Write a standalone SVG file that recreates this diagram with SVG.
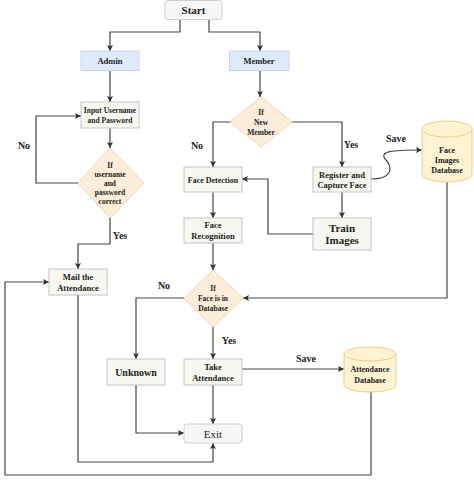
<svg xmlns="http://www.w3.org/2000/svg" width="474" height="481" viewBox="0 0 474 481">
<defs>
<marker id="ah" viewBox="0 0 10 10" refX="10" refY="5" markerWidth="6" markerHeight="6" orient="auto" markerUnits="userSpaceOnUse">
<path d="M0,0 L10,5 L0,10 L2,5 z" fill="#333"/>
</marker>
<style>
.t{font-family:"Liberation Serif","DejaVu Serif",serif;font-weight:bold;fill:#222;text-anchor:middle}
.s9{font-size:8.5px}
.s10{font-size:10px}
.s11{font-size:11px}
.lbl{font-family:"Liberation Serif","DejaVu Serif",serif;font-weight:bold;fill:#222;font-size:10px;text-anchor:middle}
.proc{fill:#f8f8f3;stroke:#c4c4c4;stroke-width:1}
.blue{fill:#dfeafb;stroke:#c6d7ee;stroke-width:1}
.term{fill:#f6f6f6;stroke:#cfcfcf;stroke-width:1}
.dec{fill:#fdeddb;stroke:#f2d3ae;stroke-width:1}
.db{fill:#fff3d2;stroke:#e6cf8a;stroke-width:1}
.c{fill:none;stroke:#444;stroke-width:1.2;marker-end:url(#ah)}
</style>
</defs>
<rect width="474" height="481" fill="#ffffff"/>

<g id="connectors">
<path class="c" d="M180,19 V32 H110 V51"/>
<path class="c" d="M209,19 V32 H260 V51"/>
<path class="c" d="M110,70 V102"/>
<path class="c" d="M110,128 V148"/>
<path class="c" d="M78,183 H36 V116 H81"/>
<path class="c" d="M110,218 V244 H78 V269"/>
<path class="c" d="M260,70 V97"/>
<path class="c" d="M230,122 H213 V167"/>
<path class="c" d="M292,122 H342 V167"/>
<path class="c" d="M371,179 C392,179 393,168 386,160 C378,151 392,150 422,150"/>
<path class="c" d="M342,192 V218"/>
<path class="c" d="M313,234 H268 V179 H242"/>
<path class="c" d="M213,192 V218"/>
<path class="c" d="M213,243 V270"/>
<path class="c" d="M447,182 V298 H243"/>
<path class="c" d="M184,298 H136 V359"/>
<path class="c" d="M213,327 V359"/>
<path class="c" d="M242,369 H344"/>
<path class="c" d="M213,385 V424"/>
<path class="c" d="M136,385 V433 H184"/>
<path class="c" d="M78,295 V462 H213 V443"/>
<path class="c" d="M371,392 V475 H5 V282 H49"/>
</g>

<g id="labels">
<text class="lbl" x="24" y="149">No</text>
<text class="lbl" x="120" y="239">Yes</text>
<text class="lbl" x="197" y="149">No</text>
<text class="lbl" x="351" y="148">Yes</text>
<text class="lbl" x="396" y="142">Save</text>
<text class="lbl" x="164" y="289">No</text>
<text class="lbl" x="229" y="344">Yes</text>
<text class="lbl" x="306" y="362">Save</text>
</g>

<g id="start">
<rect class="term" x="165" y="0.5" width="57" height="19" rx="3"/>
<text class="t s11" x="193.5" y="14">Start</text>
</g>
<g id="admin">
<rect class="blue" x="81" y="51" width="58" height="19.5"/>
<text class="t s9" x="110" y="64">Admin</text>
</g>
<g id="member">
<rect class="blue" x="229.5" y="51" width="59.5" height="19.5"/>
<text class="t s9" x="259" y="64">Member</text>
</g>
<g id="input">
<rect class="proc" x="81" y="102" width="58" height="26"/>
<text class="t" x="110" y="113" style="font-size:7.5px">Input Username</text>
<text class="t" x="110" y="123" style="font-size:7.5px">and Password</text>
</g>
<g id="checkLogin">
<polygon class="dec" points="110,148 144,183 110,218 78,183"/>
<text class="t" x="110" y="168" style="font-size:7.5px">If</text>
<text class="t" x="110" y="177" style="font-size:7.5px">username</text>
<text class="t" x="110" y="186" style="font-size:7.5px">and</text>
<text class="t" x="110" y="195" style="font-size:7.5px">password</text>
<text class="t" x="110" y="204" style="font-size:7.5px">correct</text>
</g>
<g id="mail">
<rect class="proc" x="49" y="269" width="58" height="26"/>
<text class="t s9" x="78" y="280">Mail the</text>
<text class="t s9" x="78" y="291">Attendance</text>
</g>
<g id="newMember">
<polygon class="dec" points="261,97 292,122 261,147 230,122"/>
<text class="t" x="261" y="115" style="font-size:7.5px">If</text>
<text class="t" x="261" y="125" style="font-size:7.5px">New</text>
<text class="t" x="261" y="135" style="font-size:7.5px">Member</text>
</g>
<g id="faceDetection">
<rect class="proc" x="184" y="167" width="58" height="25"/>
<text class="t" x="213" y="182.5" style="font-size:8px">Face Detection</text>
</g>
<g id="register">
<rect class="proc" x="313" y="167" width="58" height="25"/>
<text class="t s9" x="342" y="177.5">Register and</text>
<text class="t s9" x="342" y="188">Capture Face</text>
</g>
<g id="faceImagesDb">
<path class="db" d="M422,129 a25,8 0 0 1 50,0 v45 a25,8 0 0 1 -50,0 z"/>
<path class="db" d="M422,129 a25,8 0 0 0 50,0" fill="none"/>
<text class="t" x="447" y="153" style="font-size:8px">Face</text>
<text class="t" x="447" y="163" style="font-size:8px">Images</text>
<text class="t" x="447" y="173" style="font-size:8px">Database</text>
</g>
<g id="trainImages">
<rect class="proc" x="313" y="218" width="58" height="32"/>
<text class="t s11" x="342" y="232">Train</text>
<text class="t s11" x="342" y="244">Images</text>
</g>
<g id="faceRecognition">
<rect class="proc" x="184" y="218" width="58" height="25"/>
<text class="t s9" x="213" y="228">Face</text>
<text class="t s9" x="213" y="239">Recognition</text>
</g>
<g id="faceInDb">
<polygon class="dec" points="213,270 243,298.5 213,327 184,298.5"/>
<text class="t" x="213" y="291" style="font-size:7.5px">If</text>
<text class="t" x="213" y="301" style="font-size:7.5px">Face is in</text>
<text class="t" x="213" y="311" style="font-size:7.5px">Database</text>
</g>
<g id="unknown">
<rect class="proc" x="107" y="359" width="58" height="26"/>
<text class="t s10" x="136" y="376">Unknown</text>
</g>
<g id="takeAttendance">
<rect class="proc" x="184" y="359" width="58" height="26"/>
<text class="t s9" x="213" y="370">Take</text>
<text class="t s9" x="213" y="381">Attendance</text>
</g>
<g id="attendanceDb">
<path class="db" d="M344,354 a26,7 0 0 1 52,0 v31 a26,7 0 0 1 -52,0 z"/>
<path class="db" d="M344,354 a26,7 0 0 0 52,0" fill="none"/>
<text class="t" x="370" y="372" style="font-size:8px">Attendance</text>
<text class="t" x="370" y="383" style="font-size:8px">Database</text>
</g>
<g id="exit">
<rect class="term" x="184" y="424" width="58" height="19" rx="3"/>
<text class="t s11" x="213" y="437.5" style="font-weight:normal">Exit</text>
</g>
</svg>
